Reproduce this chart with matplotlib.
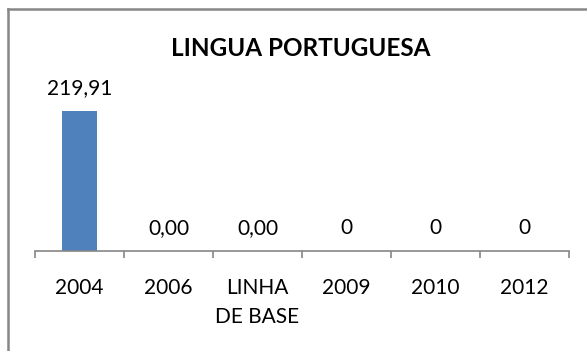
import numpy as np
import matplotlib.pyplot as plt
from matplotlib.lines import Line2D

# Dados do gráfico
categorias = ["2004", "2006", "LINHA\nDE BASE", "2009", "2010", "2012"]
valores = [219.91, 0.0, 0.0, 0, 0, 0]
rotulos = ["219,91", "0,00", "0,00", "0", "0", "0"]

plt.rcParams['font.family'] = ['Lato', 'DejaVu Sans']

fig = plt.figure(figsize=(5.87, 3.51), dpi=100)
W, H = 587, 351
ax = fig.add_axes([35 / W, (H - 251) / H, (569 - 35) / W, (251 - 60) / H])

x = np.arange(len(categorias))
ax.bar(x, valores, width=0.40, color="#4f81bd")
ax.set_xlim(-0.5, len(categorias) - 0.5)
ax.set_ylim(0, 300)

for xi, v, r in zip(x, valores, rotulos):
    ax.annotate(r, (xi, v), xytext=(0, 9), textcoords="offset points",
                ha="center", va="bottom", fontsize=15, color="black")

# eixo horizontal com marcas entre as categorias
for s in ["left", "right", "top"]:
    ax.spines[s].set_visible(False)
ax.spines["bottom"].set_color("#868686")
ax.spines["bottom"].set_linewidth(1.2)
ax.set_yticks([])
ax.set_xticks(np.arange(-0.5, len(categorias)), minor=False)
ax.set_xticklabels([])
ax.tick_params(axis="x", length=5, color="#868686", width=1.2)
for xi, c in zip(x, categorias):
    ax.text(xi, -0.14, c, transform=ax.get_xaxis_transform(), ha="center",
            va="top", fontsize=15, linespacing=1.6)

fig.text(301 / W, 1 - 48 / H, "LINGUA PORTUGUESA", ha="center", va="center",
         fontsize=17.5, fontweight="bold")

# moldura do gráfico
fig.add_artist(Line2D([8 / W, 8 / W], [0, 1 - 9 / H], transform=fig.transFigure,
                      color="#878787", lw=1.8))
fig.add_artist(Line2D([8 / W, 1], [1 - 9 / H, 1 - 9 / H], transform=fig.transFigure,
                      color="#878787", lw=1.8))

fig.savefig("out.png", dpi=100)
